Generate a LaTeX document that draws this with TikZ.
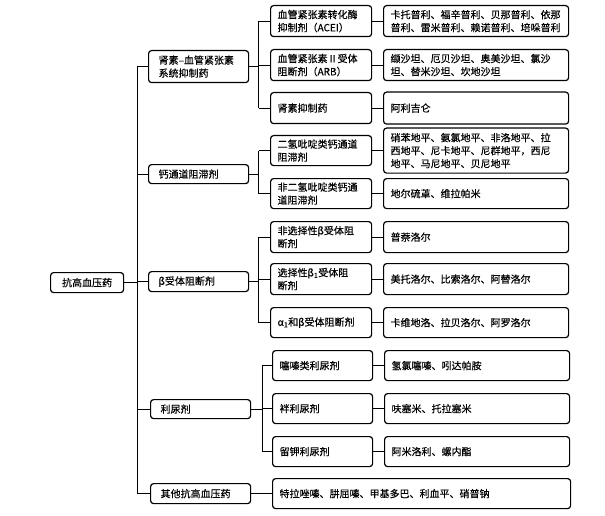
\documentclass[tikz,border=0pt]{standalone}
\usepackage{fontspec}
\newfontfamily\cjk[FakeBold=0.4]{Noto Sans CJK SC}
\begin{document}
\begin{tikzpicture}[x=1pt,y=-1pt,
  box/.style={draw, line width=1.2pt, rounded corners=3pt, anchor=north west,
    inner ysep=0pt, align=left, font=\cjk\fontsize{10}{13}\selectfont},
  lone/.style={box, inner xsep=10pt, text width=80pt},
  ltwo/.style={box, inner xsep=7pt, text width=87pt},
  lthree/.style={box, inner xsep=7pt, text width=171pt},
  conn/.style={line width=0.9pt}]
\useasboundingbox (0,0) rectangle (605,516);
% root
\node[box, anchor=north west, align=center, minimum width=73pt, minimum height=20pt, inner xsep=2pt] (root) at (50,272) {抗高血压药};
% level 1
\node[lone, minimum height=32pt] (A) at (148,50) {肾素–血管紧张素\\系统抑制药};
\node[lone, minimum height=19pt] (B) at (148,164) {钙通道阻滞剂};
\node[lone, minimum height=20pt] (C) at (148,271) {β受体阻断剂};
\node[lone, minimum height=19pt] (D) at (150,399) {利尿剂};
\node[lone, minimum height=20pt] (E) at (150,483) {其他抗高血压药};
% level 2
\node[ltwo, minimum height=31pt] (A1) at (270,5) {血管紧张素转化酶\\抑制剂（ACEI）};
\node[ltwo, minimum height=31pt] (A2) at (270,49) {血管紧张素Ⅱ受体\\阻断剂（ARB）};
\node[ltwo, minimum height=31pt] (A3) at (270,92) {肾素抑制药};
\node[ltwo, minimum height=30pt] (B1) at (270,135) {二氢吡啶类钙通道\\阻滞剂};
\node[ltwo, minimum height=30pt] (B2) at (270,178) {非二氢吡啶类钙通\\道阻滞剂};
\node[ltwo, minimum height=31pt] (C1) at (270,221) {非选择性β受体阻\\断剂};
\node[ltwo, minimum height=31pt] (C2) at (270,263) {选择性β\textsubscript{1}受体阻\\断剂};
\node[ltwo, minimum height=30pt] (C3) at (270,307) {α\textsubscript{1}和β受体阻断剂};
\node[ltwo, text width=86pt, minimum height=30pt] (D1) at (272,350) {噻嗪类利尿剂};
\node[ltwo, text width=86pt, minimum height=30pt] (D2) at (272,393) {袢利尿剂};
\node[ltwo, text width=86pt, minimum height=30pt] (D3) at (272,436) {留钾利尿剂};
% level 3
\node[lthree, minimum height=31pt] (A1d) at (383,5) {卡托普利、福辛普利、贝那普利、依那\\普利、雷米普利、赖诺普利、培哚普利};
\node[lthree, minimum height=31pt] (A2d) at (383,49) {缬沙坦、厄贝沙坦、奥美沙坦、氯沙\\坦、替米沙坦、坎地沙坦};
\node[lthree, minimum height=32pt] (A3d) at (383,91.5) {阿利吉仑};
\node[lthree, minimum height=45pt] (B1d) at (383,127.5) {硝苯地平、氨氯地平、非洛地平、拉\\西地平、尼卡地平、尼群地平，西尼\\地平、马尼地平、贝尼地平};
\node[lthree, minimum height=30pt] (B2d) at (383,178) {地尔硫䓬、维拉帕米};
\node[lthree, minimum height=31pt] (C1d) at (383,221) {普萘洛尔};
\node[lthree, minimum height=31pt] (C2d) at (383,263) {美托洛尔、比索洛尔、阿替洛尔};
\node[lthree, minimum height=30pt] (C3d) at (383,307) {卡维地洛、拉贝洛尔、阿罗洛尔};
\node[lthree, minimum height=30pt] (D1d) at (384,350) {氢氯噻嗪、吲达帕胺};
\node[lthree, minimum height=30pt] (D2d) at (384,393) {呋塞米、托拉塞米};
\node[lthree, minimum height=30pt] (D3d) at (384,436) {阿米洛利、螺内酯};
\node[box, inner xsep=7pt, text width=284pt, minimum height=30pt] (Ed) at (272,478) {特拉唑嗪、肼屈嗪、甲基多巴、利血平、硝普钠};
% trunk
\coordinate (t) at (137,0);
\draw[conn] (root.east) -- (root.east -| t);
\draw[conn] (A.west -| t) -- (E.west -| t);
\foreach \n in {A,B,C,D,E} \draw[conn] (\n.west -| t) -- (\n.west);
% level 2 branches
\coordinate (ba) at (258.5,0);
\coordinate (bd) at (262,0);
\draw[conn] (A.east) -- (A.east -| ba);
\draw[conn] (A1.west -| ba) -- (A3.west -| ba);
\foreach \n in {A1,A2,A3} \draw[conn] (\n.west -| ba) -- (\n.west);
\draw[conn] (B.east) -- (B.east -| ba);
\draw[conn] (B1.west -| ba) -- (B2.west -| ba);
\foreach \n in {B1,B2} \draw[conn] (\n.west -| ba) -- (\n.west);
\draw[conn] (C.east) -- (C.east -| ba);
\draw[conn] (C1.west -| ba) -- (C3.west -| ba);
\foreach \n in {C1,C2,C3} \draw[conn] (\n.west -| ba) -- (\n.west);
\draw[conn] (D.east) -- (D.east -| bd);
\draw[conn] (D1.west -| bd) -- (D3.west -| bd);
\foreach \n in {D1,D2,D3} \draw[conn] (\n.west -| bd) -- (\n.west);
\draw[conn] (E.east) -- (E.east -| Ed.west);
% level 3 connectors
\foreach \n in {A1,A2,A3,B1,B2,C1,C2,C3,D1,D2,D3} \draw[conn] (\n.east) -- (\n.east -| \n d.west);
\end{tikzpicture}
\end{document}
